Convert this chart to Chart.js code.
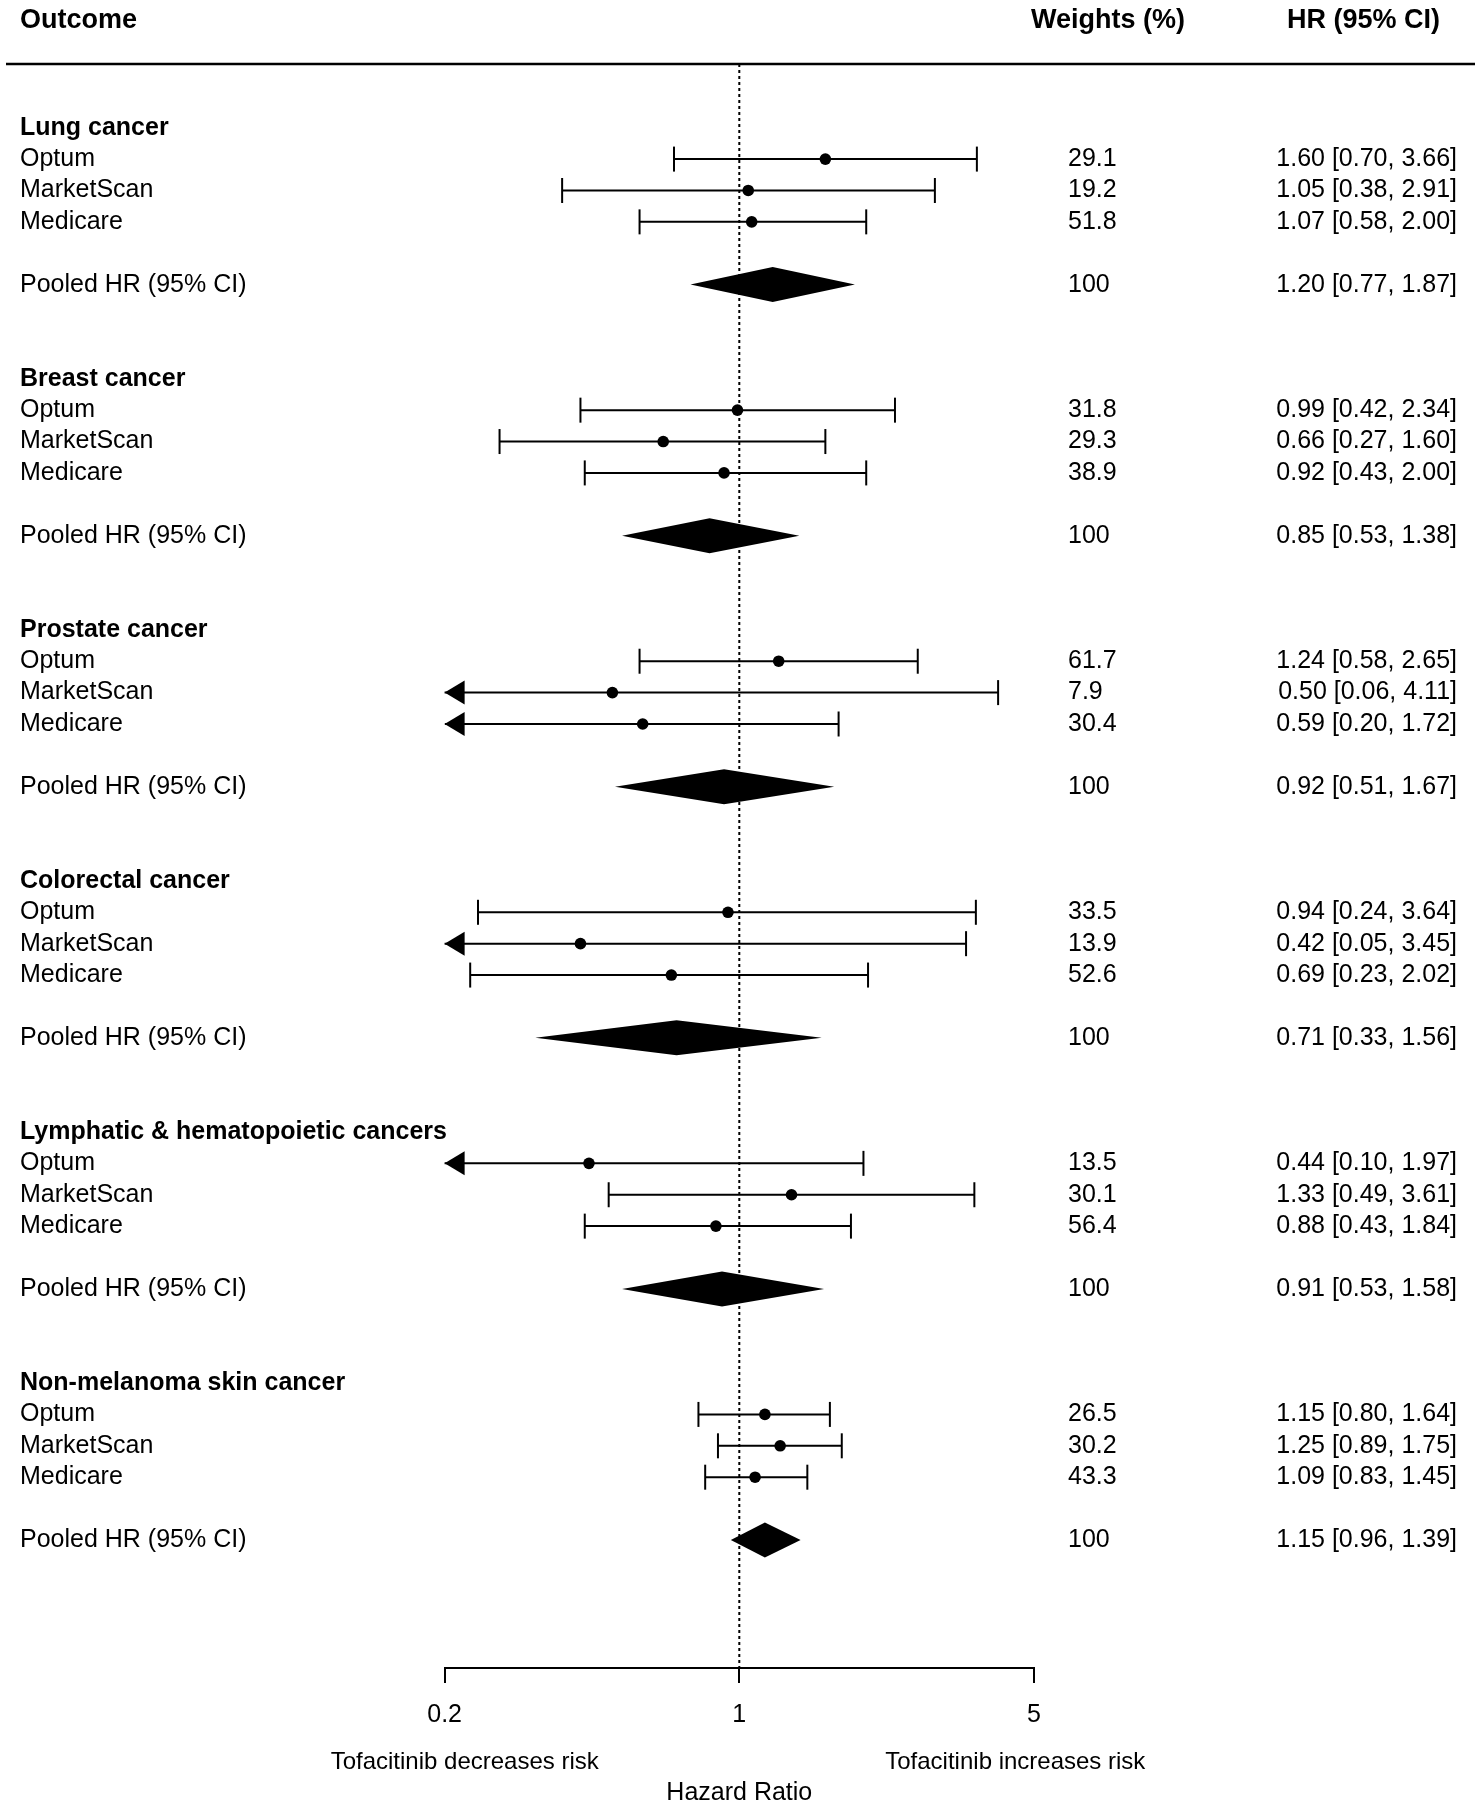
<!DOCTYPE html>
<html>
<head>
<meta charset="utf-8">
<script src="https://cdn.jsdelivr.net/npm/chart.js@4.4.1/dist/chart.umd.min.js"></script>
<style>
html, body { margin: 0; padding: 0; background: #fff; }
canvas { display: block; }
</style>
</head>
<body>
<canvas id="forest" width="1480" height="1806"></canvas>
<script>
// data
const outcomes = ["Lung cancer", "Breast cancer", "Prostate cancer", "Colorectal cancer",
  "Lymphatic & hematopoietic cancers", "Non-melanoma skin cancer"];
const sources = ["Optum", "MarketScan", "Medicare"];

const studyHR   = [1.60, 1.05, 1.07,  0.99, 0.66, 0.92,  1.24, 0.50, 0.59,  0.94, 0.42, 0.69,  0.44, 1.33, 0.88,  1.15, 1.25, 1.09];
const studyLow  = [0.70, 0.38, 0.58,  0.42, 0.27, 0.43,  0.58, 0.06, 0.20,  0.24, 0.05, 0.23,  0.10, 0.49, 0.43,  0.80, 0.89, 0.83];
const studyHigh = [3.66, 2.91, 2.00,  2.34, 1.60, 2.00,  2.65, 4.11, 1.72,  3.64, 3.45, 2.02,  1.97, 3.61, 1.84,  1.64, 1.75, 1.45];
const studyWeight = [29.1, 19.2, 51.8,  31.8, 29.3, 38.9,  61.7, 7.9, 30.4,  33.5, 13.9, 52.6,  13.5, 30.1, 56.4,  26.5, 30.2, 43.3];

const pooledHR   = [1.20, 0.85, 0.92, 0.71, 0.91, 1.15];
const pooledLow  = [0.77, 0.53, 0.51, 0.33, 0.53, 0.96];
const pooledHigh = [1.87, 1.38, 1.67, 1.56, 1.58, 1.39];
const pooledWeight = [100, 100, 100, 100, 100, 100];

const xTicks = [0.2, 1, 5];

// layout of rows: header, 3 studies, blank, pooled, 2 blanks
const rowsPerGroup = 8;
const yMin = -2.03, yMax = 49.08;
const FONT = "'Liberation Sans', Arial, Helvetica, sans-serif";
const TXT_DY = 0;

function studyRow(i) { return Math.floor(i / 3) * rowsPerGroup + 1 + (i % 3); }
function pooledRow(g) { return g * rowsPerGroup + 5; }
function fmtW(w) { return w === 100 ? "100" : w.toFixed(1); }
function fmtCI(h, l, u) { return h.toFixed(2) + " [" + l.toFixed(2) + ", " + u.toFixed(2) + "]"; }

const points = studyHR.map((h, i) => ({x: h, y: studyRow(i)}));
const whiskers = [];
studyHR.forEach((h, i) => {
  whiskers.push({x: studyLow[i], y: studyRow(i)});
  whiskers.push({x: studyHigh[i], y: studyRow(i)});
  whiskers.push({x: studyHigh[i], y: null});
});

const forestPlugin = {
  id: "forest",
  beforeDraw(chart) {
    const c = chart.ctx;
    c.save();
    c.fillStyle = "#fff";
    c.fillRect(0, 0, chart.width, chart.height);
    c.restore();
  },
  afterDatasetsDraw(chart) {
    const c = chart.ctx;
    const xs = chart.scales.x, ys = chart.scales.y;
    const xLeft = xs.getPixelForValue(xTicks[0]);
    c.save();
    c.strokeStyle = "#000";
    c.fillStyle = "#000";
    c.lineWidth = 2;
    // caps and arrows
    studyHR.forEach((h, i) => {
      const py = ys.getPixelForValue(studyRow(i));
      const ends = [studyLow[i], studyHigh[i]];
      ends.forEach((v, k) => {
        if (k === 0 && v <= xTicks[0]) {
          c.beginPath();
          c.moveTo(xLeft, py);
          c.lineTo(xLeft + 20, py - 12);
          c.lineTo(xLeft + 20, py + 12);
          c.closePath();
          c.fill();
        } else {
          const px = xs.getPixelForValue(v);
          c.beginPath();
          c.moveTo(px, py - 12.5);
          c.lineTo(px, py + 12.5);
          c.stroke();
        }
      });
    });
    // pooled diamonds
    pooledHR.forEach((h, g) => {
      const py = ys.getPixelForValue(pooledRow(g));
      const l = xs.getPixelForValue(pooledLow[g]);
      const m = xs.getPixelForValue(h);
      const u = xs.getPixelForValue(pooledHigh[g]);
      c.beginPath();
      c.moveTo(l - 1, py);
      c.lineTo(m, py - 17.5);
      c.lineTo(u + 1, py);
      c.lineTo(m, py + 17.5);
      c.closePath();
      c.fill();
    });
    c.restore();
  },
  afterDraw(chart) {
    const c = chart.ctx;
    const ys = chart.scales.y;
    c.save();
    c.fillStyle = "#000";
    c.textBaseline = "middle";

    // column headers
    c.font = "bold 27px " + FONT;
    c.textAlign = "left";
    c.fillText("Outcome", 20, 21);
    c.fillText("Weights (%)", 1031, 21);
    c.textAlign = "right";
    c.fillText("HR (95% CI)", 1440, 21);

    // header rule
    c.strokeStyle = "#000";
    c.lineWidth = 2.5;
    const ty = ys.getPixelForValue(yMin);
    c.beginPath();
    c.moveTo(6, ty);
    c.lineTo(1475, ty);
    c.stroke();

    outcomes.forEach((name, g) => {
      c.textAlign = "left";
      c.font = "bold 25px " + FONT;
      c.fillText(name, 20, ys.getPixelForValue(g * rowsPerGroup) + TXT_DY);
      c.font = "25px " + FONT;
      for (let k = 0; k < 3; k++) {
        const i = g * 3 + k;
        const py = ys.getPixelForValue(studyRow(i)) + TXT_DY;
        c.textAlign = "left";
        c.fillText(sources[k], 20, py);
        c.fillText(fmtW(studyWeight[i]), 1068, py);
        c.textAlign = "right";
        c.fillText(fmtCI(studyHR[i], studyLow[i], studyHigh[i]), 1457, py);
      }
      const pp = ys.getPixelForValue(pooledRow(g)) + TXT_DY;
      c.textAlign = "left";
      c.fillText("Pooled HR (95% CI)", 20, pp);
      c.fillText(fmtW(pooledWeight[g]), 1068, pp);
      c.textAlign = "right";
      c.fillText(fmtCI(pooledHR[g], pooledLow[g], pooledHigh[g]), 1457, pp);
    });

    // direction labels under the axis
    c.font = "24px " + FONT;
    c.textAlign = "center";
    c.fillText("Tofacitinib decreases risk", 464.7, 1762);
    c.fillText("Tofacitinib increases risk", 1015.3, 1762);
    c.restore();
  }
};

new Chart(document.getElementById("forest"), {
  type: "scatter",
  data: {
    datasets: [
      {
        label: "HR",
        data: points,
        pointRadius: 5.8,
        pointHoverRadius: 5.8,
        pointBackgroundColor: "#000",
        pointBorderWidth: 0,
        showLine: false
      },
      {
        label: "CI",
        type: "line",
        data: whiskers,
        borderColor: "#000",
        borderWidth: 2,
        pointRadius: 0,
        spanGaps: false
      },
      {
        label: "ref",
        type: "line",
        data: [{x: 1, y: yMin}, {x: 1, y: yMax}],
        borderColor: "#000",
        borderWidth: 2,
        borderDash: [3, 3],
        pointRadius: 0
      }
    ]
  },
  options: {
    responsive: false,
    devicePixelRatio: 1,
    animation: false,
    layout: { padding: { left: 444.6, right: 446, top: 64, bottom: 0 } },
    plugins: { legend: { display: false }, tooltip: { enabled: false } },
    scales: {
      x: {
        type: "logarithmic",
        min: 0.2,
        max: 5,
        afterBuildTicks: s => { s.ticks = xTicks.map(v => ({value: v})); },
        ticks: {
          callback: v => String(v),
          color: "#000",
          font: { family: FONT, size: 25 },
          padding: 17,
          maxRotation: 0,
          autoSkip: false
        },
        grid: { display: true, drawOnChartArea: false, drawTicks: true, tickLength: 15, color: "#000", lineWidth: 2 },
        border: { display: true, color: "#000", width: 2 },
        title: {
          display: true,
          text: "Hazard Ratio",
          color: "#000",
          font: { family: FONT, size: 25, lineHeight: 1 },
          padding: { top: 34, bottom: 0 }
        }
      },
      y: {
        type: "linear",
        reverse: true,
        min: yMin,
        max: yMax,
        display: false
      }
    }
  },
  plugins: [forestPlugin]
});
</script>
</body>
</html>
